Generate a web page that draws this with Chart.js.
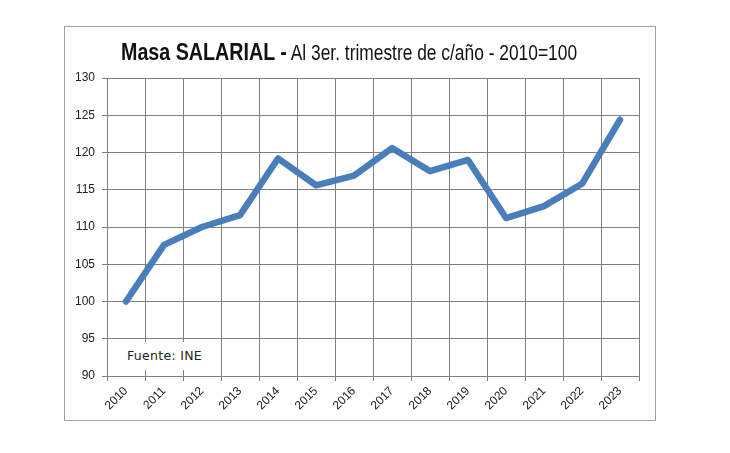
<!DOCTYPE html>
<html>
<head>
<meta charset="utf-8">
<script src="https://cdn.jsdelivr.net/npm/chart.js@4/dist/chart.umd.min.js"></script>
<style>
    html, body { margin: 0; padding: 0; background: #fff; overflow: hidden; }
    #frame {
        position: absolute; left: 64px; top: 26px;
        width: 590px; height: 393px;
        border: 1px solid #a0a0a0;
    }
    #chartBox { position: absolute; left: 0; top: 0; width: 730px; height: 453px; }
    /* title in the reference uses a narrow face, so squeeze it sideways */
    #title {
        position: absolute; left: 121px; top: 40px;
        font-family: "Liberation Sans", Arial, sans-serif;
        line-height: 24px; white-space: nowrap; color: #111;
        transform: scaleX(0.82); transform-origin: 0 0;
    }
    #title b { font-size: 24px; font-weight: bold; }
    #title span { font-size: 21.2px; }
    #source {
        position: absolute; left: 112px; top: 342px;
        width: 105px; height: 28px; background: #fff;
        font-family: "DejaVu Sans", Verdana, sans-serif;
        font-size: 12.5px; letter-spacing: 0.3px; color: #222;
        line-height: 28px; text-align: center;
    }
</style>
</head>
<body>
<div id="frame"></div>
<div id="chartBox"><canvas id="masaChart"></canvas></div>
<div id="title"><b>Masa SALARIAL -</b><span> Al 3er. trimestre de c/año - 2010=100</span></div>
<div id="source">Fuente: INE</div>
<script>
// ============================================================
// DATA
// ============================================================
const years = ["2010", "2011", "2012", "2013", "2014", "2015", "2016",
               "2017", "2018", "2019", "2020", "2021", "2022", "2023"];
const masaSalarial = [100.0, 107.6, 110.0, 111.6, 119.2, 115.6, 116.9,
                      120.6, 117.5, 119.0, 111.2, 112.8, 115.8, 124.4];
const yMin = 90;
const yMax = 130;
const yStep = 5;

const gridColor = "#808080";
const lineColor = "#4A7EBB";
const tickFont = { family: "'Liberation Sans', Arial, sans-serif", size: 12 };

const canvas = document.getElementById("masaChart");
const ctx = canvas.getContext("2d");

new Chart(ctx, {
    type: "line",
    data: {
        labels: years,
        datasets: [{
            label: "Masa salarial",
            data: masaSalarial,
            borderColor: lineColor,
            borderWidth: 6.5,
            borderCapStyle: "round",
            borderJoinStyle: "round",
            pointRadius: 0,
            tension: 0,
            fill: false
        }]
    },
    options: {
        responsive: true,
        maintainAspectRatio: false,
        animation: false,
        layout: {
            padding: { left: 62, top: 78, right: 91, bottom: 27 }
        },
        plugins: {
            legend: { display: false },
            title: { display: false },
            tooltip: { enabled: false }
        },
        scales: {
            x: {
                type: "category",
                offset: true,
                grid: { offset: true, color: gridColor, lineWidth: 1, tickLength: 5 },
                border: { color: gridColor, width: 1 },
                ticks: {
                    autoSkip: false,
                    minRotation: 45,
                    maxRotation: 45,
                    padding: 3,
                    color: "#222",
                    font: tickFont
                },
                afterFit: scale => { scale.height = 50; }
            },
            y: {
                min: yMin,
                max: yMax,
                grid: { color: gridColor, lineWidth: 1, tickLength: 5 },
                border: { color: gridColor, width: 1 },
                ticks: {
                    stepSize: yStep,
                    padding: 7,
                    color: "#222",
                    font: tickFont
                },
                afterFit: scale => { scale.width = 45; }
            }
        }
    }
});
</script>
</body>
</html>
